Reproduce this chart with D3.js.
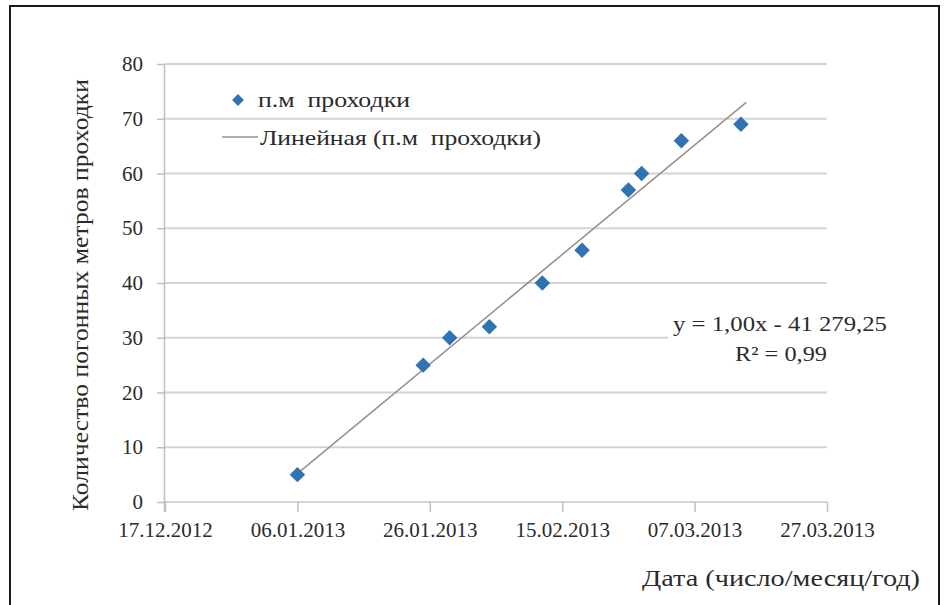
<!DOCTYPE html>
<html><head><meta charset="utf-8">
<script src="https://cdn.jsdelivr.net/npm/d3@7"></script>
<style>
html,body{margin:0;padding:0;background:#fff;}
svg{display:block;}
svg text{font-family:"Liberation Serif","Times New Roman",serif !important; white-space:pre;}
</style></head>
<body><svg id="c" width="944" height="605"></svg>
<script>
// ---- data ----
const dates = ["06.01.2013","25.01.2013","29.01.2013","04.02.2013","12.02.2013","18.02.2013","25.02.2013","27.02.2013","05.03.2013","14.03.2013"];
const meters = [5,25,30,32,40,46,57,60,66,69];
const xTickLabels = ["17.12.2012","06.01.2013","26.01.2013","15.02.2013","07.03.2013","27.03.2013"];
const yTicks = [0,10,20,30,40,50,60,70,80];
const seriesName = "п.м  проходки";
const trendName = "Линейная (п.м  проходки)";
const equationLines = ["y = 1,00x - 41 279,25","R² = 0,99"];
const xTitle = "Дата (число/месяц/год)";
const yTitle = "Количество погонных метров проходки";

const parse = d3.timeParse("%d.%m.%Y");
const pts = dates.map((d,i)=>({x:parse(d), y:meters[i]}));
const tickDates = xTickLabels.map(parse);

const svg = d3.select("#c");
const L=165, R=827, T=64, B=502;
const TXT="#2b2b2b";
const x = d3.scaleTime().domain([tickDates[0], tickDates[tickDates.length-1]]).range([L,R]);
const y = d3.scaleLinear().domain([0,80]).range([B,T]);

// frame
svg.append("rect").attr("x",10).attr("y",6).attr("width",929).attr("height",620)
  .attr("fill","none").attr("stroke","#1a1a1a").attr("stroke-width",2);

// gridlines
svg.append("g").selectAll("line").data(yTicks).join("line")
  .attr("x1",L).attr("x2",R).attr("y1",d=>y(d)).attr("y2",d=>y(d))
  .attr("stroke","#d4d4d4").attr("stroke-width",2);

// y axis
const yAx = svg.append("g").attr("transform",`translate(${L},0)`)
  .call(d3.axisLeft(y).tickValues(yTicks).tickSize(8).tickPadding(14));
yAx.select(".domain").attr("stroke","#bfbfbf").attr("stroke-width",1.5).attr("d",`M-0.5,${T}V${B+10}`);
yAx.selectAll(".tick line").attr("stroke","#bfbfbf").attr("stroke-width",1.5);
yAx.selectAll("text").attr("font-size",21).attr("fill",TXT);

// x axis
const xAx = svg.append("g").attr("transform",`translate(0,${B})`)
  .call(d3.axisBottom(x).tickValues(tickDates).tickFormat((d,i)=>xTickLabels[i]).tickSize(10).tickPadding(10));
xAx.select(".domain").remove();
xAx.selectAll(".tick line").attr("stroke","#bfbfbf").attr("stroke-width",1.5);
xAx.selectAll("text").attr("font-size",21).attr("fill",TXT);

// linear trend (least squares on the data)
const day = 864e5;
const xs = pts.map(p=>p.x.getTime()/day), ys = pts.map(p=>p.y);
const mx = d3.mean(xs), my = d3.mean(ys);
const slope = d3.sum(xs.map((v,i)=>(v-mx)*(ys[i]-my))) / d3.sum(xs.map(v=>(v-mx)*(v-mx)));
const icpt = my - slope*mx;
const x0 = d3.min(xs), x1 = d3.max(xs)+0.8;
svg.append("line")
  .attr("x1",x(new Date(x0*day))).attr("y1",y(slope*x0+icpt))
  .attr("x2",x(new Date(x1*day))).attr("y2",y(slope*x1+icpt))
  .attr("stroke","#9b928a").attr("stroke-width",1.6);

// markers
const sym = d3.symbol(d3.symbolSquare,120);
svg.append("g").selectAll("path").data(pts).join("path")
  .attr("d",sym).attr("fill","#2e73b4")
  .attr("transform",d=>`translate(${x(d.x)},${y(d.y)}) rotate(45)`);

// helper for text fitted to the reference width
function txt(xp, yp, s, w, anchor, size){
  return svg.append("text").attr("x",xp).attr("y",yp).attr("font-size",size||22)
    .attr("fill",TXT).attr("text-anchor",anchor||"start")
    .attr("textLength",w).attr("lengthAdjust","spacingAndGlyphs").text(s);
}

// legend
svg.append("path").attr("d",d3.symbol(d3.symbolSquare,70)).attr("fill","#2e73b4")
  .attr("transform","translate(238,100) rotate(45)");
txt(258,107,seriesName,152);
svg.append("line").attr("x1",222).attr("x2",258).attr("y1",137).attr("y2",137).attr("stroke","#9b928a").attr("stroke-width",1.6);
txt(260,145,trendName,281);

// equation label
svg.append("rect").attr("x",668).attr("y",312).attr("width",222).attr("height",54).attr("fill","#fff");
txt(780,331,equationLines[0],214,"middle");
txt(781,361,equationLines[1],92,"middle");

// axis titles
txt(920,586,xTitle,278,"end",23);
svg.append("text").attr("transform","translate(88,295) rotate(-90)").attr("text-anchor","middle")
  .attr("font-size",23).attr("fill",TXT).attr("textLength",432).attr("lengthAdjust","spacingAndGlyphs").text(yTitle);
</script></body></html>
